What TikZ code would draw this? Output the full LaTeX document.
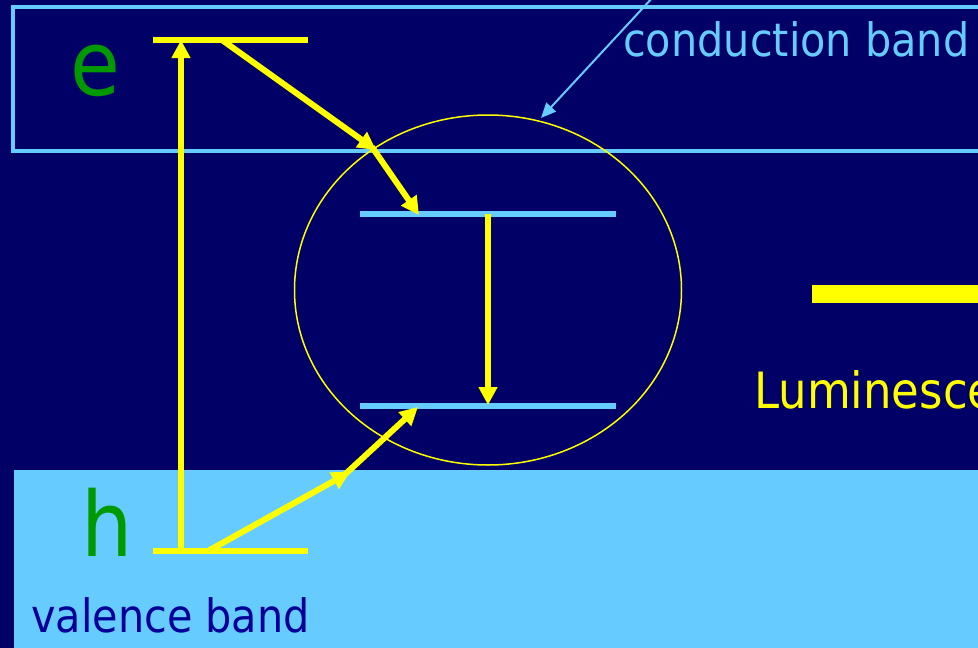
\documentclass[tikz,border=0pt]{standalone}
\usepackage{fontspec}
\setmainfont{DejaVu Sans}[FakeStretch=0.9]
\usetikzlibrary{arrows.meta,shapes.geometric}
\definecolor{navy}{HTML}{000066}
\definecolor{lblue}{HTML}{66CCFF}
\definecolor{yel}{HTML}{FFFF00}
\definecolor{grn}{HTML}{009900}
\definecolor{dblue}{HTML}{000099}
\tikzset{
  bandline/.style={draw=lblue, line width=3.2pt},
  elevel/.style={draw=yel, line width=6.5pt},
  trap/.style={draw=lblue, line width=6.5pt},
  yarrow/.style={draw=yel, line width=6pt, -{Triangle[length=18pt,width=18pt]}},
  thinarrow/.style={draw=lblue, line width=2pt, -{Triangle[length=15pt,width=13pt]}},
  bigtxt/.style={anchor=base west, inner sep=0, text=grn, font=\fontsize{90}{96}\selectfont},
  labtxt/.style={anchor=base west, inner sep=0, font=\fontsize{46}{50}\selectfont},
}
\begin{document}
\begin{tikzpicture}[x=1pt,y=-1pt]
\useasboundingbox (0,0) rectangle (978,648);
\fill[navy] (0,0) rectangle (978,648);
\clip (0,0) rectangle (978,648);
% bands
\draw[bandline] (13,7) rectangle (1000,151);
\fill[lblue] (14,470) rectangle (1000,660);
% luminescence bar
\fill[yel] (812,285) rectangle (1000,303);
% coordinates
\coordinate (eL) at (153,40);
\coordinate (eR) at (308,40);
\coordinate (eV) at (181,40);
\coordinate (eD) at (222,40);
\coordinate (hL) at (153,551);
\coordinate (hR) at (308,551);
\coordinate (hV) at (181,551);
\coordinate (hD) at (208,551);
\coordinate (tUL) at (360,214);
\coordinate (tUR) at (616,214);
\coordinate (tU1) at (419,215);
\coordinate (tUm) at (488,214);
\coordinate (tLL) at (360,406);
\coordinate (tLR) at (616,406);
\coordinate (tL1) at (418,407);
\coordinate (tLm) at (488,405);
\coordinate (kC) at (376,150);
\coordinate (kC2) at (372,147);
\coordinate (kV) at (350,472);
\coordinate (kV2) at (340,479);
\coordinate (cbtail) at (654,-4);
\coordinate (cbtip) at (541,118);
% impurity centre
\node[ellipse, draw=yel, line width=1.5pt, minimum width=387pt, minimum height=350pt, inner sep=0] (centre) at (488,290) {};
% levels
\draw[elevel] (eL) -- (eR);
\draw[elevel] (hL) -- (hR);
\draw[trap] (tUL) -- (tUR);
\draw[trap] (tLL) -- (tLR);
% transitions
\draw[yarrow, line width=5.5pt] (hV) -- (eV);
\draw[yarrow] (eD) -- (kC);
\draw[yarrow] (kC2) -- (tU1);
\draw[yarrow] (hD) -- (kV);
\draw[yarrow] (kV2) -- (tL1);
\draw[yarrow] (tUm) -- (tLm);
% label pointer
\draw[thinarrow] (cbtail) -- (cbtip);
% texts
\node[bigtxt] (e) at (70,95) {e};
\node[bigtxt] (h) at (81,556) {h};
\node[labtxt, text=lblue] (cb) at (623,56) {conduction band};
\node[labtxt, text=dblue] (vb) at (31,632) {valence band};
\node[labtxt, text=yel, font=\fontsize{50}{54}\selectfont] (lum) at (754,408) {Luminescence};
\end{tikzpicture}
\end{document}
